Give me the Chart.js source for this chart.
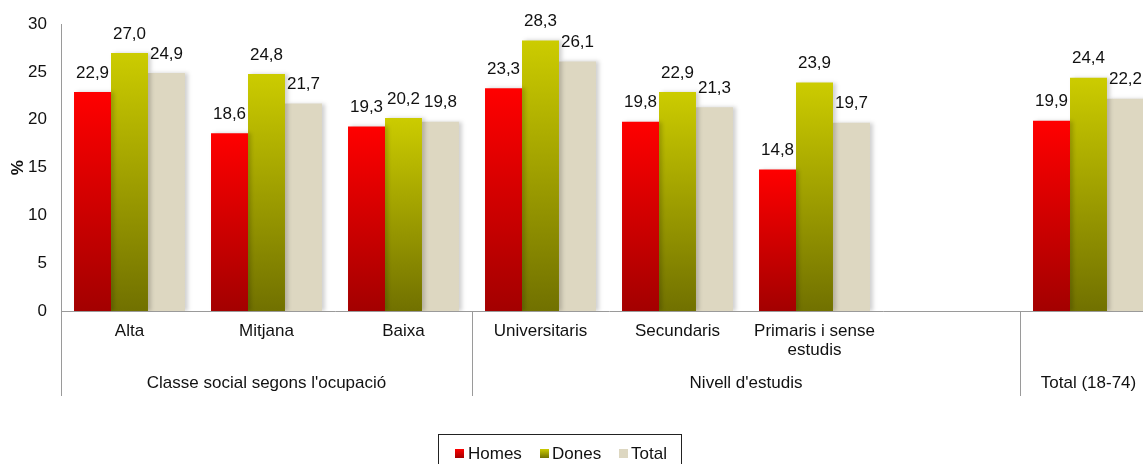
<!DOCTYPE html>
<html>
<head>
<meta charset="utf-8">
<script src="https://cdn.jsdelivr.net/npm/chart.js@4.4.1/dist/chart.umd.min.js"></script>
<style>
  body { margin: 0; background: #fff; }
  #wrap { width: 1143px; height: 464px; overflow: hidden; }
</style>
</head>
<body>
<div id="wrap"><canvas id="chart" width="1160" height="464"></canvas></div>
<script>
// categories (index 6 is the empty gap before the total)
const categories = ['Alta', 'Mitjana', 'Baixa', 'Universitaris', 'Secundaris', ['Primaris i sense', 'estudis'], '', ''];
const groups = ["Classe social segons l'ocupació", "Nivell d'estudis", 'Total (18-74)'];
const groupStart = [0, 3, 7]; // first category of each group
const groupEnd = [2, 6, 7];   // last category of each group

// values (%)
const homes = [22.9, 18.6, 19.3, 23.3, 19.8, 14.8, null, 19.9];
const dones = [27.0, 24.8, 20.2, 28.3, 22.9, 23.9, null, 24.4];
const total = [24.9, 21.7, 19.8, 26.1, 21.3, 19.7, null, 22.2];

const yTicks = [0, 5, 10, 15, 20, 25, 30];

const FONT = 'Liberation Sans, Arial, sans-serif';

// colours: top and bottom of each bar
const colHomes = ['#ff0000', '#a30000'];
const colDones = ['#cccc00', '#717100'];
const colTotal = ['#ddd7c1', '#ddd7c1'];

function barFill(cols) {
  return function(ctx) {
    const chart = ctx.chart;
    const y = chart.scales.y;
    if (ctx.type !== 'data' || !y || ctx.raw == null) return cols[0];
    const top = y.getPixelForValue(ctx.raw);
    const bottom = y.getPixelForValue(0);
    if (!isFinite(top) || !isFinite(bottom) || top === bottom) return cols[0];
    const g = chart.ctx.createLinearGradient(0, top, 0, bottom);
    g.addColorStop(0, cols[0]);
    g.addColorStop(1, cols[1]);
    return g;
  };
}

// shadow behind the bars
const shadowPlugin = {
  id: 'shadow',
  beforeDatasetsDraw(chart) {
    const c = chart.ctx;
    c.save();
    c.shadowColor = 'rgba(0,0,0,0.18)';
    c.shadowBlur = 4;
    c.shadowOffsetX = 3;
    c.shadowOffsetY = 0;
  },
  afterDatasetsDraw(chart) {
    chart.ctx.restore();
  }
};

// value labels, group labels, separators and legend
const extrasPlugin = {
  id: 'extras',
  afterDatasetsDraw(chart) {
    const c = chart.ctx;
    c.save();
    c.font = '17px ' + FONT;
    c.fillStyle = '#111';
    c.textAlign = 'center';
    c.textBaseline = 'middle';
    chart.data.datasets.forEach((ds, i) => {
      chart.getDatasetMeta(i).data.forEach((bar, j) => {
        const v = ds.data[j];
        if (v == null) return;
        c.fillText(v.toFixed(1).replace('.', ','), bar.x, bar.y - 19);
      });
    });
    c.restore();
  },
  afterDraw(chart) {
    const c = chart.ctx;
    const x = chart.scales.x;
    const area = chart.chartArea;
    const half = (area.right - area.left) / categories.length / 2;
    c.save();
    // group separators
    c.strokeStyle = '#9a9a9a';
    c.lineWidth = 1;
    const seps = [x.getPixelForValue(0) - half, x.getPixelForValue(3) - half, x.getPixelForValue(7) - half];
    seps.forEach(px => {
      c.beginPath();
      c.moveTo(Math.round(px) + 0.5, area.bottom);
      c.lineTo(Math.round(px) + 0.5, area.bottom + 85);
      c.stroke();
    });
    // group labels
    c.font = '17px ' + FONT;
    c.fillStyle = '#111';
    c.textAlign = 'center';
    c.textBaseline = 'middle';
    groups.forEach((g, i) => {
      const l = x.getPixelForValue(groupStart[i]) - half;
      const r = x.getPixelForValue(groupEnd[i]) + half;
      c.fillText(g, (l + r) / 2, area.bottom + 72);
    });
    // legend
    c.strokeStyle = '#222';
    c.strokeRect(438.5, 434.5, 243, 40);
    const items = [
      { x: 455, tx: 468 },
      { x: 540, tx: 552 },
      { x: 619, tx: 631 }
    ];
    const cols = [colHomes, colDones, colTotal];
    c.textAlign = 'left';
    chart.data.datasets.forEach((ds, i) => {
      const g = c.createLinearGradient(0, 449, 0, 458);
      g.addColorStop(0, cols[i][0]);
      g.addColorStop(1, cols[i][1]);
      c.fillStyle = g;
      c.fillRect(items[i].x, 449, 9, 9);
      c.fillStyle = '#111';
      c.fillText(ds.label, items[i].tx, 454);
    });
    c.restore();
  }
};

new Chart(document.getElementById('chart'), {
  type: 'bar',
  data: {
    labels: categories,
    datasets: [
      { label: 'Homes', data: homes, backgroundColor: barFill(colHomes) },
      { label: 'Dones', data: dones, backgroundColor: barFill(colDones) },
      { label: 'Total', data: total, backgroundColor: barFill(colTotal) }
    ]
  },
  options: {
    responsive: false,
    animation: false,
    events: [],
    layout: { padding: { top: 14, right: 3, left: 0, bottom: 0 } },
    datasets: {
      bar: { categoryPercentage: 0.81, barPercentage: 1, borderWidth: 0 }
    },
    plugins: {
      legend: { display: false },
      tooltip: { enabled: false }
    },
    scales: {
      x: {
        grid: { display: false, drawTicks: false },
        border: { color: '#9a9a9a' },
        ticks: {
          color: '#111',
          font: { family: FONT, size: 17, lineHeight: 1.12 },
          padding: 11,
          maxRotation: 0,
          autoSkip: false
        },
        afterFit(scale) { scale.height = 153; }
      },
      y: {
        min: 0,
        max: 30,
        afterBuildTicks(scale) { scale.ticks = yTicks.map(v => ({ value: v })); },
        grid: { display: false, drawTicks: false },
        border: { color: '#9a9a9a' },
        ticks: {
          color: '#111',
          font: { family: FONT, size: 17 },
          padding: 14
        },
        title: {
          display: true,
          text: '%',
          color: '#111',
          font: { family: FONT, size: 17, weight: 'bold' },
          padding: { top: 8, bottom: 0 }
        },
        afterFit(scale) { scale.width = 61; }
      }
    }
  },
  plugins: [shadowPlugin, extrasPlugin]
});
</script>
</body>
</html>
